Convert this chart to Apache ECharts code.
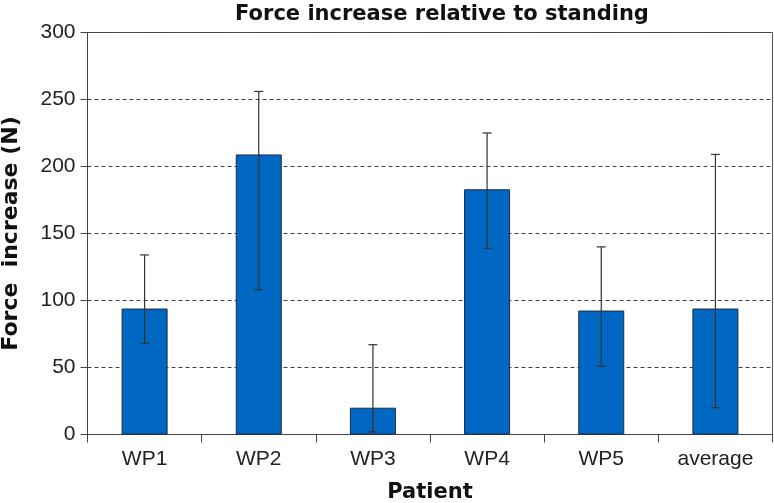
<!DOCTYPE html>
<html><head><meta charset="utf-8">
<script src="https://cdn.jsdelivr.net/npm/echarts@6/dist/echarts.min.js"></script>
<style>html,body{margin:0;padding:0;background:#fff}#c{width:774px;height:503px}</style>
</head><body><div id="c"></div>
<script>
const categories = ['WP1','WP2','WP3','WP4','WP5','average'];
const values = [94, 209, 20, 183, 92.5, 94];
const errLow = [68, 108, 2, 139, 51, 20];
const errHigh = [134, 256, 67, 225, 140, 209];
const yTicks = [0, 50, 100, 150, 200, 250, 300];

const chart = echarts.init(document.getElementById('c'));
const font = "'Liberation Sans', Arial, sans-serif";
const bold = "'DejaVu Sans', sans-serif";
chart.setOption({
  animation: false,
  title: {
    text: 'Force increase relative to standing',
    left: 437, top: -1, textAlign: 'center',
    textStyle: {fontFamily: bold, fontWeight: 'bold', fontSize: 21, color: '#111'}
  },
  grid: {left: 87.5, right: 1.5, top: 32.5, bottom: 68.5, show: true, borderColor: '#555', borderWidth: 1,
         containLabel: false, outerBoundsMode: 'none'},
  xAxis: {
    type: 'category', data: categories, boundaryGap: true,
    axisLine: {lineStyle: {color: '#444', width: 1}},
    axisTick: {show: true, alignWithLabel: false, length: 8, lineStyle: {color: '#444'}},
    axisLabel: {fontFamily: font, fontSize: 21, color: '#222', margin: 14},
    name: 'Patient', nameLocation: 'middle', nameGap: 48,
    nameTextStyle: {fontFamily: bold, fontWeight: 'bold', fontSize: 21, color: '#111'}
  },
  yAxis: {
    type: 'value', min: yTicks[0], max: yTicks[yTicks.length - 1], interval: 50,
    axisLine: {show: true, lineStyle: {color: '#444', width: 1}},
    axisTick: {show: true, length: 7, lineStyle: {color: '#444'}},
    axisLabel: {fontFamily: font, fontSize: 21, color: '#222', margin: 12},
    splitLine: {show: true, lineStyle: {type: [4, 3], color: '#444', width: 1}},
    name: 'Force  increase (N)', nameLocation: 'middle', nameGap: 65,
    nameTextStyle: {fontFamily: bold, fontWeight: 'bold', fontSize: 22, color: '#111', padding: [0, 0, 0, 0]}
  },
  series: [
    {
      type: 'bar', data: values, barWidth: 46,
      itemStyle: {color: '#0068c2', borderColor: '#1a2b48', borderWidth: 1}
    },
    {
      type: 'custom', z: 10,
      data: categories.map((c, i) => [i, errLow[i], errHigh[i]]),
      renderItem: function (params, api) {
        const i = api.value(0);
        const lo = api.coord([i, api.value(1)]);
        const hi = api.coord([i, api.value(2)]);
        const x = lo[0], w = 4.5;
        const st = {stroke: '#333', lineWidth: 1.2};
        return {type: 'group', children: [
          {type: 'line', shape: {x1: x, y1: lo[1], x2: x, y2: hi[1]}, style: st},
          {type: 'line', shape: {x1: x - w, y1: lo[1], x2: x + w, y2: lo[1]}, style: st},
          {type: 'line', shape: {x1: x - w, y1: hi[1], x2: x + w, y2: hi[1]}, style: st}
        ]};
      }
    }
  ]
});
</script></body></html>
